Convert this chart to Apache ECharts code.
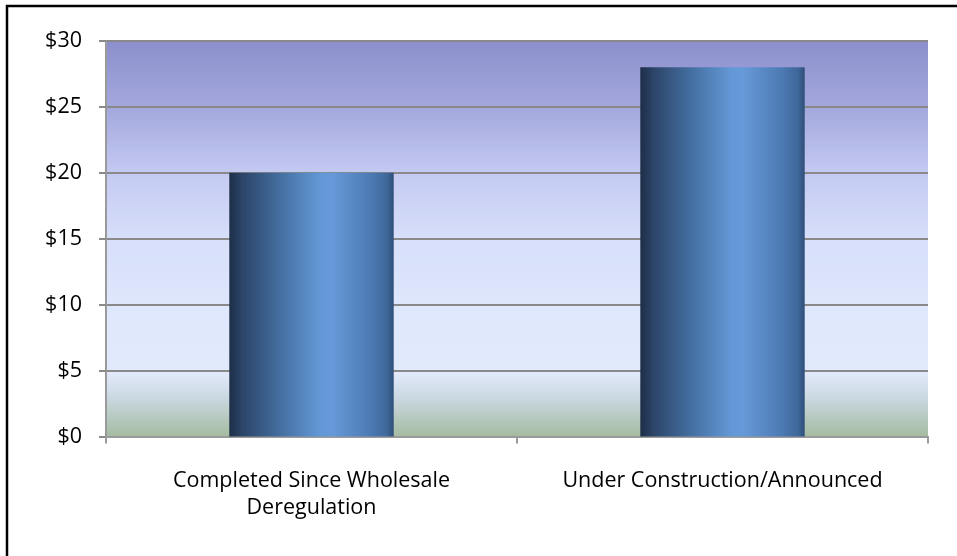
<!DOCTYPE html>
<html>
<head>
<meta charset="utf-8">
<script src="https://cdn.jsdelivr.net/npm/echarts@6/dist/echarts.min.js"></script>
<style>
  html, body { margin: 0; padding: 0; background: #fff; }
  #chart { width: 957px; height: 556px; }
</style>
</head>
<body>
<div id="chart"></div>
<script>
// Investment amounts (billions of dollars) by project status
const categories = ['Completed Since Wholesale\nDeregulation', 'Under Construction/Announced'];
const values = [20, 28];
const yTicks = { min: 0, max: 30, interval: 5 };

const FONT = 'Open Sans';
const chart = echarts.init(document.getElementById('chart'));

const plotFill = new echarts.graphic.LinearGradient(0, 0, 0, 1, [
  { offset: 0.00, color: '#8c8fcc' },
  { offset: 0.17, color: '#a4a8dd' },
  { offset: 0.33, color: '#c3c9f1' },
  { offset: 0.50, color: '#d7dffa' },
  { offset: 0.70, color: '#dfe8fc' },
  { offset: 0.84, color: '#e1e9fb' },
  { offset: 0.90, color: '#cbd9e2' },
  { offset: 1.00, color: '#a4bba0' }
]);

const barFill = new echarts.graphic.LinearGradient(0, 0, 1, 0, [
  { offset: 0.00, color: '#1d2e47' },
  { offset: 0.08, color: '#2c4568' },
  { offset: 0.30, color: '#436d9e' },
  { offset: 0.55, color: '#6298d6' },
  { offset: 0.63, color: '#6699d8' },
  { offset: 0.86, color: '#4c7ab3' },
  { offset: 0.96, color: '#3f6799' },
  { offset: 1.00, color: '#2f4e78' }
]);

chart.setOption({
  backgroundColor: '#ffffff',
  animation: false,
  textStyle: { fontFamily: FONT },
  graphic: [{
    type: 'rect',
    shape: { x: 7, y: 6, width: 970, height: 580 },
    style: { fill: 'none', stroke: '#000', lineWidth: 2.5 },
    silent: true,
    z: 100
  }],
  grid: {
    left: 106, top: 41, right: 29, bottom: 119.5,
    show: true,
    backgroundColor: plotFill,
    borderWidth: 0
  },
  xAxis: {
    type: 'category',
    data: categories,
    axisLine: { show: true, lineStyle: { color: '#9a9a9a', width: 2 } },
    axisTick: { show: true, length: 7, lineStyle: { color: '#9a9a9a', width: 2 } },
    axisLabel: {
      color: '#000', fontSize: 21.5, fontFamily: FONT,
      lineHeight: 27, margin: 31, interval: 0
    },
    splitLine: { show: false }
  },
  yAxis: {
    type: 'value',
    min: yTicks.min, max: yTicks.max, interval: yTicks.interval,
    axisLine: { show: true, lineStyle: { color: '#9a9a9a', width: 2 } },
    axisTick: { show: true, length: 7, lineStyle: { color: '#8a8a8a', width: 2 } },
    axisLabel: {
      color: '#000', fontSize: 21.5, fontFamily: FONT, margin: 24,
      formatter: v => '$' + v
    },
    splitLine: { show: true, lineStyle: { color: '#898989', width: 2 } }
  },
  series: [{
    type: 'bar',
    data: values,
    barWidth: '40%',
    itemStyle: { color: barFill },
    z: 3
  }]
});
</script>
</body>
</html>
